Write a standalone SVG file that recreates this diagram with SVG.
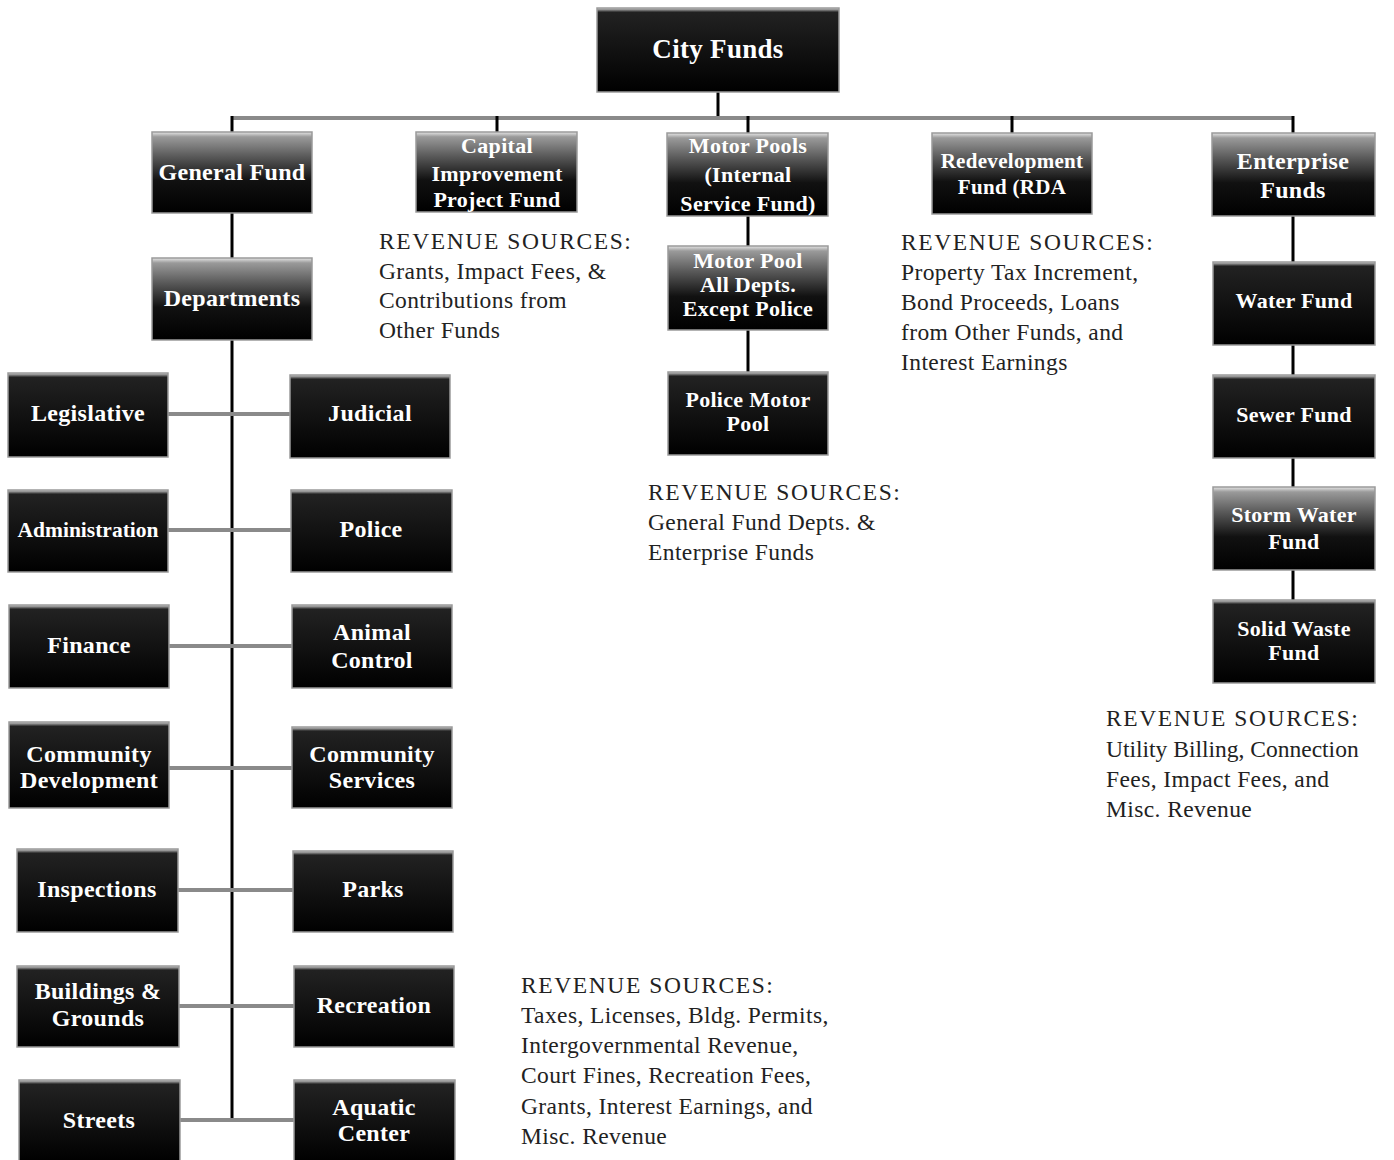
<svg xmlns="http://www.w3.org/2000/svg" width="1394" height="1160" viewBox="0 0 1394 1160">
<defs>
<linearGradient id="bg" x1="0" y1="0" x2="0" y2="1">
<stop offset="0" stop-color="#e6e6e6"/>
<stop offset="0.06" stop-color="#9a9a9a"/>
<stop offset="0.3" stop-color="#5a5a5a"/>
<stop offset="0.6" stop-color="#111"/>
<stop offset="1" stop-color="#000"/>
</linearGradient>
<linearGradient id="bgTop" x1="0" y1="0" x2="0" y2="1">
<stop offset="0" stop-color="#d8d8d8"/>
<stop offset="0.05" stop-color="#222"/>
<stop offset="1" stop-color="#000"/>
</linearGradient>
</defs>
<style>
.box{fill:url(#bg);stroke:#9a9a9a;stroke-width:1.5}
.boxd{fill:url(#bgTop);stroke:#9a9a9a;stroke-width:1.5}
.t{font-family:"Liberation Serif","Times New Roman",serif;font-weight:bold;fill:#fff;font-size:24px;text-anchor:middle;letter-spacing:0.3px}
.s{font-size:22px}
.r{font-family:"Liberation Serif","Times New Roman",serif;fill:#222;font-size:23.5px;letter-spacing:0.4px}
.rh{letter-spacing:1.6px}
.v{stroke:#000;stroke-width:3;fill:none}
.h{stroke:#8a8a8a;stroke-width:4;fill:none}
</style>
<rect width="1394" height="1160" fill="#fff"/>
<g id="connectors">
<line class="v" x1="718" y1="92" x2="718" y2="118"/>
<line class="h" x1="232" y1="118" x2="1293" y2="118"/>
<line class="v" x1="232" y1="116" x2="232" y2="132"/>
<line class="v" x1="497" y1="116" x2="497" y2="132"/>
<line class="v" x1="748" y1="116" x2="748" y2="133"/>
<line class="v" x1="1012" y1="116" x2="1012" y2="133"/>
<line class="v" x1="1293" y1="116" x2="1293" y2="133"/>
<line class="v" x1="232" y1="213" x2="232" y2="258"/>
<line class="v" x1="232" y1="340" x2="232" y2="1121"/>
<line class="v" x1="748" y1="216" x2="748" y2="246"/>
<line class="v" x1="748" y1="330" x2="748" y2="372"/>
<line class="v" x1="1293" y1="216" x2="1293" y2="600"/>
<line class="h" x1="168" y1="414" x2="290" y2="414"/>
<line class="h" x1="168" y1="530" x2="291" y2="530"/>
<line class="h" x1="169" y1="646" x2="292" y2="646"/>
<line class="h" x1="169" y1="768" x2="292" y2="768"/>
<line class="h" x1="178" y1="890" x2="293" y2="890"/>
<line class="h" x1="179" y1="1006" x2="294" y2="1006"/>
<line class="h" x1="180" y1="1120" x2="294" y2="1120"/>
</g>
<g id="n-city"><rect class="boxd" x="597" y="8" width="242" height="84"/><text class="t" x="718" y="58" style="font-size:27px">City Funds</text></g>
<g id="n-general"><rect class="box" x="152" y="132" width="160" height="81"/><text class="t" x="232" y="180">General Fund</text></g>
<g id="n-capital"><rect class="box" x="416" y="132" width="161" height="80"/><text class="t s" x="497" y="153">Capital</text><text class="t s" x="497" y="181">Improvement</text><text class="t s" x="497" y="207">Project Fund</text></g>
<g id="n-motorpools"><rect class="box" x="667" y="133" width="161" height="83"/><text class="t s" x="748" y="153">Motor Pools</text><text class="t s" x="748" y="182">(Internal</text><text class="t s" x="748" y="211">Service Fund)</text></g>
<g id="n-rda"><rect class="box" x="932" y="133" width="160" height="81"/><text class="t" x="1012" y="168" style="font-size:21px">Redevelopment</text><text class="t" x="1012" y="194" style="font-size:21px">Fund (RDA</text></g>
<g id="n-enterprise"><rect class="box" x="1212" y="133" width="163" height="83"/><text class="t" x="1293" y="169">Enterprise</text><text class="t" x="1293" y="198">Funds</text></g>
<g id="n-departments"><rect class="box" x="152" y="258" width="160" height="82"/><text class="t" x="232" y="306">Departments</text></g>
<g id="n-motorpool-all"><rect class="box" x="668" y="246" width="160" height="84"/><text class="t s" x="748" y="268">Motor Pool</text><text class="t s" x="748" y="292">All Depts.</text><text class="t s" x="748" y="316">Except Police</text></g>
<g id="n-police-motor"><rect class="boxd" x="668" y="372" width="160" height="83"/><text class="t s" x="748" y="407">Police Motor</text><text class="t s" x="748" y="431">Pool</text></g>
<g id="n-water"><rect class="boxd" x="1213" y="262" width="162" height="83"/><text class="t s" x="1294" y="308">Water Fund</text></g>
<g id="n-sewer"><rect class="boxd" x="1213" y="375" width="162" height="83"/><text class="t s" x="1294" y="422">Sewer Fund</text></g>
<g id="n-storm"><rect class="box" x="1213" y="487" width="162" height="83"/><text class="t s" x="1294" y="522">Storm Water</text><text class="t s" x="1294" y="549">Fund</text></g>
<g id="n-solid"><rect class="boxd" x="1213" y="600" width="162" height="83"/><text class="t s" x="1294" y="636">Solid Waste</text><text class="t s" x="1294" y="660">Fund</text></g>
<g id="n-legislative"><rect class="boxd" x="8" y="373" width="160" height="84"/><text class="t" x="88" y="421">Legislative</text></g>
<g id="n-judicial"><rect class="boxd" x="290" y="375" width="160" height="83"/><text class="t" x="370" y="421">Judicial</text></g>
<g id="n-administration"><rect class="boxd" x="8" y="490" width="160" height="82"/><text class="t" x="88" y="537" style="font-size:21.5px;letter-spacing:0">Administration</text></g>
<g id="n-police"><rect class="boxd" x="291" y="490" width="161" height="82"/><text class="t" x="371" y="537">Police</text></g>
<g id="n-finance"><rect class="boxd" x="9" y="605" width="160" height="83"/><text class="t" x="89" y="653">Finance</text></g>
<g id="n-animal"><rect class="boxd" x="292" y="605" width="160" height="83"/><text class="t" x="372" y="640">Animal</text><text class="t" x="372" y="668">Control</text></g>
<g id="n-commdev"><rect class="boxd" x="9" y="722" width="160" height="86"/><text class="t" x="89" y="762">Community</text><text class="t" x="89" y="788">Development</text></g>
<g id="n-commserv"><rect class="boxd" x="292" y="727" width="160" height="81"/><text class="t" x="372" y="762">Community</text><text class="t" x="372" y="788">Services</text></g>
<g id="n-inspections"><rect class="boxd" x="17" y="849" width="161" height="83"/><text class="t" x="97" y="897">Inspections</text></g>
<g id="n-parks"><rect class="boxd" x="293" y="851" width="160" height="81"/><text class="t" x="373" y="897">Parks</text></g>
<g id="n-buildings"><rect class="boxd" x="17" y="966" width="162" height="81"/><text class="t" x="98" y="999">Buildings &amp;</text><text class="t" x="98" y="1026">Grounds</text></g>
<g id="n-recreation"><rect class="boxd" x="294" y="966" width="160" height="81"/><text class="t" x="374" y="1013">Recreation</text></g>
<g id="n-streets"><rect class="boxd" x="19" y="1080" width="161" height="82"/><text class="t" x="99" y="1128">Streets</text></g>
<g id="n-aquatic"><rect class="boxd" x="294" y="1080" width="161" height="82"/><text class="t" x="374" y="1115">Aquatic</text><text class="t" x="374" y="1141">Center</text></g>
<g id="revenue-texts">
<text class="r rh" x="379" y="249">REVENUE SOURCES:</text>
<text class="r" x="379" y="279">Grants, Impact Fees, &amp;</text>
<text class="r" x="379" y="308">Contributions from</text>
<text class="r" x="379" y="338">Other Funds</text>
<text class="r rh" x="901" y="250">REVENUE SOURCES:</text>
<text class="r" x="901" y="280">Property Tax Increment,</text>
<text class="r" x="901" y="310">Bond Proceeds, Loans</text>
<text class="r" x="901" y="340">from Other Funds, and</text>
<text class="r" x="901" y="370">Interest Earnings</text>
<text class="r rh" x="648" y="500">REVENUE SOURCES:</text>
<text class="r" x="648" y="530">General Fund Depts. &amp;</text>
<text class="r" x="648" y="560">Enterprise Funds</text>
<text class="r rh" x="1106" y="726">REVENUE SOURCES:</text>
<text class="r" x="1106" y="757" style="letter-spacing:0">Utility Billing, Connection</text>
<text class="r" x="1106" y="787">Fees, Impact Fees, and</text>
<text class="r" x="1106" y="817">Misc. Revenue</text>
<text class="r rh" x="521" y="993">REVENUE SOURCES:</text>
<text class="r" x="521" y="1023">Taxes, Licenses, Bldg. Permits,</text>
<text class="r" x="521" y="1053">Intergovernmental Revenue,</text>
<text class="r" x="521" y="1083">Court Fines, Recreation Fees,</text>
<text class="r" x="521" y="1114">Grants, Interest Earnings, and</text>
<text class="r" x="521" y="1144">Misc. Revenue</text>
</g>
</svg>
